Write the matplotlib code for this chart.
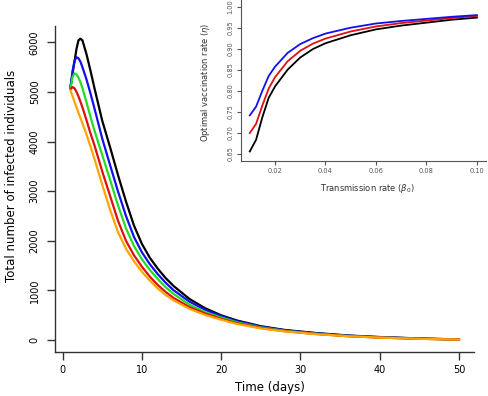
# Infected individuals over time, with inset of optimal vaccination rate

import numpy as np
import matplotlib
matplotlib.use("Agg")
import matplotlib.pyplot as plt

# 1. Data
days = [1, 1.25, 1.5, 1.75, 2, 2.25, 2.5, 3, 3.5, 4, 5, 6, 7, 8, 9, 10,
        11, 12, 13, 14, 16, 18, 20, 22, 25, 28, 32, 36, 40, 45, 50]

infected_black = [5110, 5370, 5610, 5870, 6040, 6075, 6040, 5770, 5440, 5090, 4420,
                  3880, 3320, 2790, 2310, 1940, 1660, 1440, 1250, 1090, 830, 640,
                  500, 395, 280, 205, 142, 93, 62, 33, 13]
infected_blue = [5090, 5420, 5630, 5700, 5680, 5610, 5500, 5260, 4980, 4680, 4060,
                 3520, 2990, 2500, 2080, 1770, 1530, 1330, 1155, 1005, 775, 610,
                 485, 380, 272, 198, 136, 88, 58, 31, 12]
infected_green = [5075, 5300, 5375, 5355, 5290, 5195, 5080, 4800, 4510, 4230, 3730,
                  3225, 2710, 2250, 1895, 1630, 1415, 1230, 1065, 930, 715, 560,
                  455, 358, 256, 188, 128, 82, 54, 28, 11]
infected_red = [5055, 5100, 5075, 5005, 4910, 4805, 4690, 4440, 4175, 3935, 3400,
                2900, 2400, 2000, 1710, 1480, 1280, 1110, 970, 850, 665, 535,
                430, 340, 245, 180, 123, 79, 51, 27, 10]
infected_orange = [5030, 4915, 4800, 4690, 4580, 4475, 4370, 4150, 3910, 3660, 3130,
                   2620, 2170, 1840, 1590, 1380, 1200, 1040, 910, 800, 630, 505,
                   410, 325, 235, 175, 120, 78, 50, 26, 10]

beta = [0.01, 0.0125, 0.015, 0.0175, 0.02, 0.025, 0.03, 0.035, 0.04,
        0.05, 0.06, 0.07, 0.08, 0.09, 0.10]
eta_blue = [0.741, 0.762, 0.800, 0.835, 0.857, 0.890, 0.911, 0.925, 0.936,
            0.950, 0.960, 0.966, 0.971, 0.976, 0.980]
eta_red = [0.699, 0.721, 0.765, 0.805, 0.832, 0.870, 0.895, 0.912, 0.924,
           0.941, 0.953, 0.961, 0.967, 0.973, 0.978]
eta_black = [0.655, 0.683, 0.737, 0.783, 0.810, 0.850, 0.879, 0.899, 0.913,
             0.932, 0.946, 0.955, 0.962, 0.969, 0.974]

main_xticks = [0, 10, 20, 30, 40, 50]
main_yticks = [0, 1000, 2000, 3000, 4000, 5000, 6000]
inset_xticks = [0.02, 0.04, 0.06, 0.08, 0.10]
inset_yticks = [0.65, 0.70, 0.75, 0.80, 0.85, 0.90, 0.95, 1.00]

plt.rcParams['font.family'] = ['DejaVu Sans']

# 2. Main plot
fig = plt.figure(figsize=(4.89, 3.96), dpi=100)
ax = fig.add_axes([55 / 489, 44 / 396, 419.5 / 489, 326 / 396])

ax.plot(days, infected_black, color='black', lw=1.6)
ax.plot(days, infected_blue, color='#1010f0', lw=1.6)
ax.plot(days, infected_green, color='#22dd22', lw=1.6)
ax.plot(days, infected_red, color='#e01010', lw=1.6)
ax.plot(days, infected_orange, color='#ffa500', lw=1.6)

ax.set_xlim(-0.96, 51.96)
ax.set_ylim(-240, 6330)
ax.set_xticks(main_xticks)
ax.set_yticks(main_yticks)
ax.spines['top'].set_visible(False)
ax.spines['right'].set_visible(False)
for s in ['left', 'bottom']:
    ax.spines[s].set_linewidth(1.0)
    ax.spines[s].set_color('#333333')
ax.tick_params(axis='x', length=5.5, width=1.0, color='#333333', pad=4, labelsize=7)
ax.tick_params(axis='y', length=6, width=1.0, color='#333333', pad=5, labelsize=7)
plt.setp(ax.get_yticklabels(), rotation=90, va='center')

ax.set_xlabel("Time (days)", fontsize=8.5)
ax.xaxis.set_label_coords(0.512, -0.089)
ax.set_ylabel("Total number of infected individuals", fontsize=8.5)
ax.yaxis.set_label_coords(-0.088, 0.54)

# 3. Inset plot
ins = fig.add_axes([240.7 / 489, (396 - 160.7) / 396, 245.3 / 489, 160.7 / 396])
ins.plot(beta, eta_black, color='black', lw=1.3)
ins.plot(beta, eta_red, color='#e01010', lw=1.3)
ins.plot(beta, eta_blue, color='#1010f0', lw=1.3)

ins.set_xlim(0.0064, 0.1036)
ins.set_ylim(0.633, 1.016)
ins.set_xticks(inset_xticks)
ins.set_xticklabels(["0.02", "0.04", "0.06", "0.08", "0.10"])
ins.set_yticks(inset_yticks)
ins.set_yticklabels(["0.65", "0.70", "0.75", "0.80", "0.85", "0.90", "0.95", "1.00"])
ins.spines['top'].set_visible(False)
ins.spines['right'].set_visible(False)
for s in ['left', 'bottom']:
    ins.spines[s].set_linewidth(0.8)
    ins.spines[s].set_color('#555555')
ins.tick_params(length=3, width=0.8, color='#555555', pad=2, labelsize=4.8, labelcolor='#555555')
plt.setp(ins.get_yticklabels(), rotation=90, va='center')

ins.set_xlabel(r"Transmission rate ($\beta_0$)", fontsize=6, color='#333333')
ins.xaxis.set_label_coords(0.515, -0.135)
ins.set_ylabel(r"Optimal vaccination rate ($\eta$)", fontsize=6, color='#333333')
ins.yaxis.set_label_coords(-0.115, 0.49)

fig.savefig("out.png", dpi=100)
